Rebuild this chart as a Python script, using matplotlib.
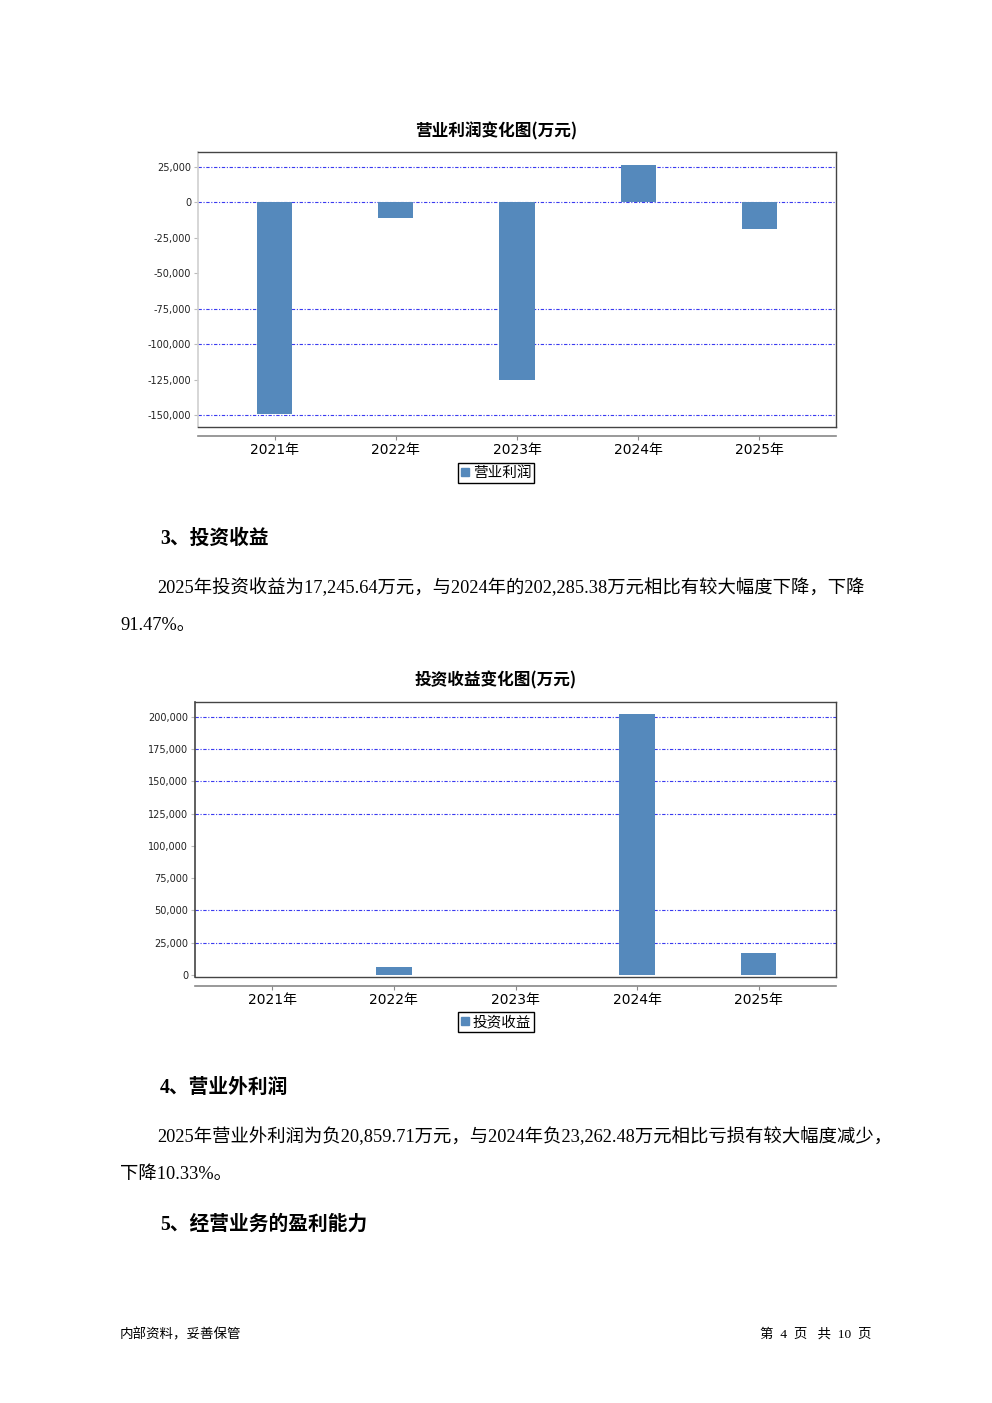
import numpy as np
import matplotlib.pyplot as plt
from matplotlib.lines import Line2D

plt.rcParams['font.family'] = ['DejaVu Sans', 'Noto Sans CJK SC']

years = ['2021年', '2022年', '2023年', '2024年', '2025年']

# 营业利润 (万元)
profit = [-149500, -11300, -125300, 26200, -18400]
profit_ticks = [25000, 0, -25000, -50000, -75000, -100000, -125000, -150000]
profit_grid = [25000, 0, -75000, -100000, -150000]

# 投资收益 (万元)
invest = [0, 6200, 0, 202285.38, 17245.64]
invest_ticks = [0, 25000, 50000, 75000, 100000, 125000, 150000, 175000, 200000]
invest_grid = [200000, 175000, 150000, 125000, 50000, 25000]

BAR = '#5589bc'
GRID = '#3a3af0'
W, H = 992, 1403

fig = plt.figure(figsize=(W / 100, H / 100), dpi=100)


def px(x, y):
    return x / W, 1 - y / H


def bar_chart(rect, values, ticks, grid, ylim, title, title_y, legend_y, label, left_color):
    ax = fig.add_axes(rect)
    x = np.arange(len(values))
    ax.bar(x, values, width=0.29, color=BAR, linewidth=0, zorder=3)
    for g in grid:
        ax.axhline(g, color=GRID, lw=0.8, ls=(0, (3, 1.5, 1, 1.5)), zorder=2)
    ax.set_xlim(-0.635, len(values) - 1 + 0.635)
    ax.set_ylim(*ylim)
    ax.set_yticks(ticks)
    ax.set_yticklabels([f'{t:,}' for t in ticks], fontsize=7, color='#222222')
    ax.set_xticks(x)
    ax.set_xticklabels(years, fontsize=7.5, color='#222222')
    ax.tick_params(axis='y', length=3, color='#bbbbbb', pad=2)
    ax.tick_params(axis='x', length=3, color='#888888', pad=2, direction='out')
    for s in ['top', 'right']:
        ax.spines[s].set_color('#444444')
        ax.spines[s].set_linewidth(1.0)
    ax.spines['left'].set_color(left_color)
    ax.spines['left'].set_linewidth(1.2)
    ax.spines['bottom'].set_position(('outward', 6.5))
    ax.spines['bottom'].set_color('#888888')
    ax.spines['bottom'].set_linewidth(1.2)
    ax.plot([0, 1], [0, 0], transform=ax.transAxes, color='#444444', lw=1.0, clip_on=False, zorder=5)
    fig.text(*px(496, title_y), title, ha='center', va='center', fontsize=12,
             fontweight='bold', family=['Noto Sans CJK SC'])
    h = Line2D([], [], marker='s', color='none', markerfacecolor=BAR, markeredgecolor=BAR, markersize=6)
    fig.legend([h], [label], loc='center', bbox_to_anchor=px(496, legend_y),
               prop={'family': 'Noto Sans CJK SC', 'size': 10.5}, fancybox=False,
               edgecolor='black', framealpha=1, handlelength=0.6, handletextpad=0.2,
               borderpad=0.2, borderaxespad=0)
    return ax


bar_chart([198 / W, 1 - 427 / H, 638 / W, 275 / H], profit, profit_ticks, profit_grid,
          (-158500, 35600), '营业利润变化图(万元)', 131.5, 473, '营业利润', '#d0d0d0')
bar_chart([195 / W, 1 - 977 / H, 641 / W, 275 / H], invest, invest_ticks, invest_grid,
          (-1550, 211600), '投资收益变化图(万元)', 680.5, 1022, '投资收益', '#444444')

body = ['Liberation Serif', 'Noto Sans CJK SC']
fig.text(*px(160, 538.5), '3、投资收益', fontsize=14.2, fontweight='bold', family=body, va='center')
fig.text(*px(157, 587.5), '2025年投资收益为17,245.64万元，与2024年的202,285.38万元相比有较大幅度下降，下降',
         fontsize=13.2, family=body, va='center')
fig.text(*px(120, 625.5), '91.47%。', fontsize=13.2, family=body, va='center')
fig.text(*px(160, 1087.5), '4、营业外利润', fontsize=14.2, fontweight='bold', family=body, va='center')
fig.text(*px(157, 1136.5), '2025年营业外利润为负20,859.71万元，与2024年负23,262.48万元相比亏损有较大幅度减少，',
         fontsize=13.2, family=body, va='center')
fig.text(*px(120, 1174.5), '下降10.33%。', fontsize=13.2, family=body, va='center')
fig.text(*px(160, 1224.5), '5、经营业务的盈利能力', fontsize=14.2, fontweight='bold', family=body, va='center')

fig.text(*px(120, 1334.5), '内部资料，妥善保管', fontsize=9.7, family=body, va='center')
fig.text(*px(871, 1334.5), '第  4  页   共  10  页', fontsize=9.7, family=body, va='center', ha='right')

fig.savefig('out.png', dpi=100, facecolor='white')
